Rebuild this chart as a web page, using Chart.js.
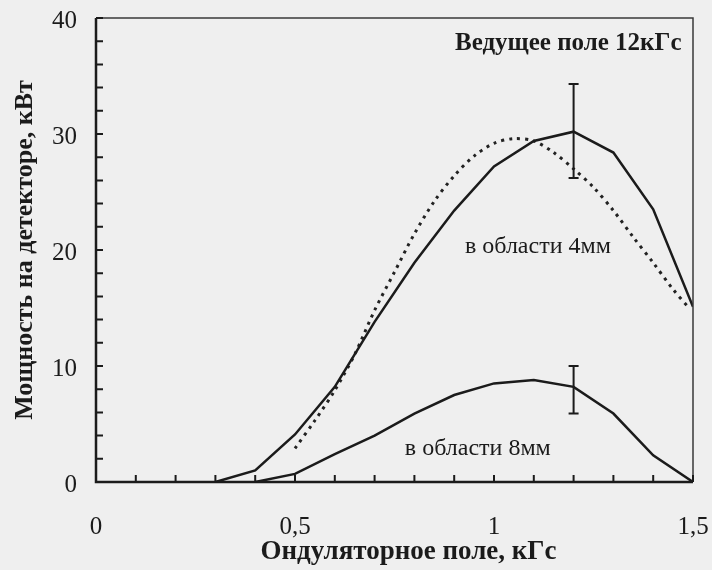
<!DOCTYPE html>
<html lang="ru">
<head>
<meta charset="utf-8">
<title>Мощность на детекторе</title>
<script src="https://cdn.jsdelivr.net/npm/chart.js@4.4.1/dist/chart.umd.min.js"></script>
<style>
    html, body { margin: 0; padding: 0; background: #efefef; }
    #wrap { width: 712px; height: 570px; }
</style>
</head>
<body>
<div id="wrap"><canvas id="grafico"></canvas></div>
<script>
// ондуляторное поле, кГс
const field4mm = [0.3, 0.4, 0.5, 0.6, 0.7, 0.8, 0.9, 1.0, 1.1, 1.2, 1.3, 1.4, 1.5];
const power4mm = [0, 1.0, 4.1, 8.2, 13.8, 18.9, 23.4, 27.2, 29.4, 30.2, 28.4, 23.5, 15.1];

// расчётная кривая (пунктир)
const fieldCalc = [0.5, 0.55, 0.6, 0.65, 0.7, 0.75, 0.8, 0.85, 0.9, 0.95, 1.0, 1.05, 1.1, 1.15, 1.2, 1.25, 1.3, 1.35, 1.4, 1.45, 1.49];
const powerCalc = [2.9, 5.3, 7.9, 11.0, 14.8, 18.1, 21.4, 24.2, 26.4, 28.1, 29.2, 29.6, 29.4, 28.4, 27.0, 25.4, 23.4, 21.1, 18.9, 16.6, 15.0];

const field8mm = [0.4, 0.5, 0.6, 0.7, 0.8, 0.9, 1.0, 1.1, 1.2, 1.3, 1.4, 1.5];
const power8mm = [0, 0.7, 2.4, 4.0, 5.9, 7.5, 8.5, 8.8, 8.2, 5.9, 2.3, 0];

// погрешность измерений при 1,2 кГс
const errorField = [1.2, 1.2];
const errorLow = [26.2, 5.9];
const errorHigh = [34.3, 10.0];

const xMajorTicks = [0, 0.5, 1, 1.5];
const yMajorTicks = [0, 10, 20, 30, 40];

const fontFamily = '"Liberation Serif", "Times New Roman", serif';
const inkColor = '#1b1b1b';

function toPoints(xs, ys) {
    return xs.map((x, i) => ({ x, y: ys[i] }));
}

function isMajor(value, list) {
    return list.some(v => Math.abs(v - value) < 1e-6);
}

// убираем запас под крайние подписи, поля задаются через layout.padding
function dropLabelPadding(scale) {
    scale.paddingLeft = 0;
    scale.paddingRight = 0;
    scale.paddingTop = 0;
    scale.paddingBottom = 0;
}

const chartDecor = {
    id: 'chartDecor',
    beforeDraw(chart) {
        const { ctx, width, height } = chart;
        ctx.save();
        ctx.fillStyle = '#efefef';
        ctx.fillRect(0, 0, width, height);
        ctx.restore();
    },
    afterDatasetsDraw(chart) {
        const { ctx, scales: { x, y } } = chart;
        ctx.save();
        ctx.strokeStyle = inkColor;
        ctx.lineWidth = 2;
        errorField.forEach((fx, i) => {
            const px = x.getPixelForValue(fx);
            const top = y.getPixelForValue(errorHigh[i]);
            const bottom = y.getPixelForValue(errorLow[i]);
            ctx.beginPath();
            ctx.moveTo(px, top);
            ctx.lineTo(px, bottom);
            ctx.moveTo(px - 5, top);
            ctx.lineTo(px + 5, top);
            ctx.moveTo(px - 5, bottom);
            ctx.lineTo(px + 5, bottom);
            ctx.stroke();
        });
        ctx.restore();
    },
    afterDraw(chart) {
        const { ctx, chartArea: area, scales: { x, y } } = chart;
        ctx.save();

        // рамка
        ctx.strokeStyle = '#3a3a3a';
        ctx.lineWidth = 1.5;
        ctx.beginPath();
        ctx.moveTo(area.left, area.top);
        ctx.lineTo(area.right, area.top);
        ctx.lineTo(area.right, area.bottom);
        ctx.stroke();

        ctx.strokeStyle = inkColor;
        ctx.lineWidth = 2.5;
        ctx.beginPath();
        ctx.moveTo(area.left, area.top);
        ctx.lineTo(area.left, area.bottom);
        ctx.lineTo(area.right, area.bottom);
        ctx.stroke();

        // засечки внутрь
        ctx.lineWidth = 2;
        ctx.beginPath();
        x.ticks.forEach(t => {
            const px = x.getPixelForValue(t.value);
            ctx.moveTo(px, area.bottom);
            ctx.lineTo(px, area.bottom - 7);
        });
        y.ticks.forEach(t => {
            const py = y.getPixelForValue(t.value);
            ctx.moveTo(area.left, py);
            ctx.lineTo(area.left + 7, py);
        });
        ctx.stroke();

        // подписи
        ctx.fillStyle = inkColor;
        ctx.textBaseline = 'middle';
        ctx.textAlign = 'left';
        ctx.font = `bold 25px ${fontFamily}`;
        ctx.fillText('Ведущее поле 12кГс', x.getPixelForValue(0.902), y.getPixelForValue(37.8));
        ctx.font = `24px ${fontFamily}`;
        ctx.fillText('в области 4мм', x.getPixelForValue(0.927), y.getPixelForValue(20.3));
        ctx.fillText('в области 8мм', x.getPixelForValue(0.776), y.getPixelForValue(2.9));

        ctx.textAlign = 'center';
        ctx.font = `bold 27px ${fontFamily}`;
        ctx.fillText('Ондуляторное поле, кГс', (area.left + area.right) / 2 + 14, 552);
        ctx.restore();
    }
};

new Chart(document.getElementById('grafico'), {
    type: 'line',
    data: {
        datasets: [
            {
                label: 'в области 4мм',
                data: toPoints(field4mm, power4mm),
                borderColor: inkColor,
                borderWidth: 2.5,
                pointRadius: 0,
                tension: 0
            },
            {
                label: 'расчёт',
                data: toPoints(fieldCalc, powerCalc),
                borderColor: '#222222',
                borderWidth: 3,
                borderDash: [3, 5],
                pointRadius: 0,
                tension: 0.3
            },
            {
                label: 'в области 8мм',
                data: toPoints(field8mm, power8mm),
                borderColor: inkColor,
                borderWidth: 2.5,
                pointRadius: 0,
                tension: 0
            }
        ]
    },
    options: {
        responsive: true,
        maintainAspectRatio: false,
        animation: false,
        layout: {
            padding: { top: 18, right: 19, left: 0, bottom: 0 }
        },
        plugins: {
            legend: { display: false },
            tooltip: { enabled: false }
        },
        scales: {
            x: {
                type: 'linear',
                min: 0,
                max: 1.5,
                afterFit(scale) {
                    scale.height = 88;
                    dropLabelPadding(scale);
                },
                grid: { display: false, drawTicks: false },
                border: { display: false },
                ticks: {
                    stepSize: 0.1,
                    autoSkip: false,
                    maxRotation: 0,
                    padding: 30,
                    color: inkColor,
                    font: { family: fontFamily, size: 25 },
                    callback(value) {
                        return isMajor(value, xMajorTicks) ? String(Math.round(value * 10) / 10).replace('.', ',') : '';
                    }
                }
            },
            y: {
                min: 0,
                max: 40,
                afterFit(scale) {
                    scale.width = 96;
                    dropLabelPadding(scale);
                },
                grid: { display: false, drawTicks: false },
                border: { display: false },
                ticks: {
                    stepSize: 2,
                    autoSkip: false,
                    padding: 19,
                    labelOffset: 3,
                    color: inkColor,
                    font: { family: fontFamily, size: 25 },
                    callback(value) {
                        return isMajor(value, yMajorTicks) ? String(value) : '';
                    }
                },
                title: {
                    display: true,
                    text: 'Мощность на детекторе, кВт',
                    color: inkColor,
                    font: { family: fontFamily, size: 26, weight: 'bold' },
                    padding: { top: 10, bottom: 0 }
                }
            }
        }
    },
    plugins: [chartDecor]
});
</script>
</body>
</html>
